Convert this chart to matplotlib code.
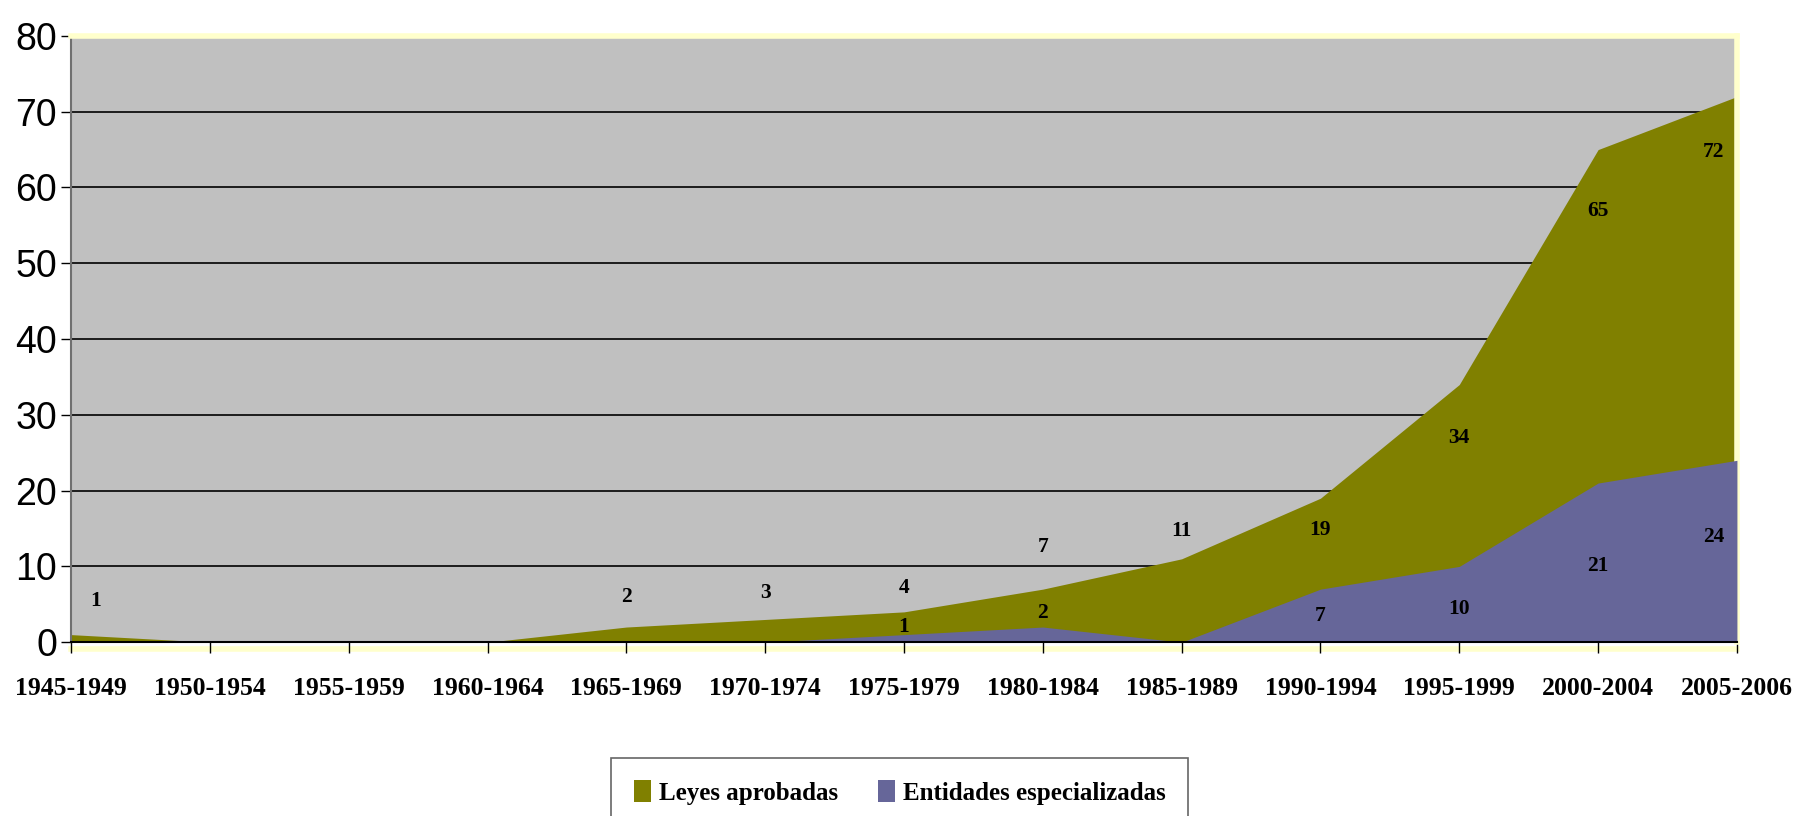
import matplotlib
matplotlib.use("Agg")
import matplotlib.pyplot as plt
from matplotlib.patches import Patch

periods = ["1945-1949", "1950-1954", "1955-1959", "1960-1964", "1965-1969",
           "1970-1974", "1975-1979", "1980-1984", "1985-1989", "1990-1994",
           "1995-1999", "2000-2004", "2005-2006"]
leyes = [1, 0, 0, 0, 2, 3, 4, 7, 11, 19, 34, 65, 72]
entidades = [0, 0, 0, 0, 0, 0, 1, 2, 0, 7, 10, 21, 24]

# data labels as Excel placed them (period index -> y position in data units)
leyes_labels = {0: 5.4, 4: 6.0, 5: 6.5, 6: 7.1, 7: 12.6, 8: 14.7,
                9: 14.8, 10: 26.9, 11: 56.9, 12: 64.7}
entidades_labels = {6: 2.0, 7: 3.9, 9: 3.5, 10: 4.4, 11: 10.1, 12: 13.9}

GREEN = "#808000"
PURPLE = "#666699"
GRAY = "#C0C0C0"
YELLOW = "#FFFFCC"

SERIF_B = dict(family=["Liberation Serif", "DejaVu Serif"], weight="bold")
SANS = ["Liberation Sans Narrow", "Liberation Sans", "DejaVu Sans"]

fig = plt.figure(figsize=(17.99, 8.16), dpi=100)
ax = fig.add_axes([0.0395, 0.213, 0.926, 0.743])
ax.set_facecolor(GRAY)

x = list(range(len(periods)))
ax.set_xlim(0, len(periods) - 1)
ax.set_ylim(0, 80)
ax.set_yticks(range(0, 81, 10))
ax.grid(axis="y", color="black", lw=1.2)
ax.set_axisbelow("line")

ax.fill_between(x, 0, leyes, color=GREEN, lw=0, zorder=2)
ax.fill_between(x, 0, entidades, color=PURPLE, lw=0, zorder=3)


def label_offset(i):
    if i == 0:
        return 18
    if i == len(periods) - 1:
        return -17
    return 0


for i, y in leyes_labels.items():
    ax.annotate(str(leyes[i]), (x[i], y), xytext=(label_offset(i), 0),
                textcoords="offset points", ha="center", va="center",
                fontsize=15.5, zorder=5, **SERIF_B)
for i, y in entidades_labels.items():
    ax.annotate(str(entidades[i]), (x[i], y), xytext=(label_offset(i), 0),
                textcoords="offset points", ha="center", va="center",
                fontsize=15.5, zorder=5, **SERIF_B)

ax.set_xticks(x)
ax.set_xticklabels(periods, fontsize=18.5, **SERIF_B)
ax.tick_params(axis="x", direction="out", length=8, width=1, pad=17)
ax.tick_params(axis="y", direction="out", length=7, width=1, pad=3)
for lab in ax.get_yticklabels():
    lab.set_family(SANS)
    lab.set_fontsize(27)

for side in ["top", "right"]:
    ax.spines[side].set_color(YELLOW)
    ax.spines[side].set_linewidth(4)
ax.spines["left"].set_color("#707070")
ax.spines["left"].set_linewidth(1.5)
ax.spines["bottom"].set_color("black")
ax.spines["bottom"].set_linewidth(1.5)
ax.spines["bottom"].set_zorder(4)
# light yellow band just under the x axis line
ax.axhline(-0.9, color=YELLOW, lw=4, clip_on=False, zorder=1)

handles = [Patch(facecolor=GREEN, edgecolor="none", label="Leyes aprobadas"),
           Patch(facecolor=PURPLE, edgecolor="none", label="Entidades especializadas")]
leg = fig.legend(handles=handles, loc="upper center", ncol=2,
                 bbox_to_anchor=(0.5, 0.087), frameon=True, fancybox=False,
                 prop=dict(family=["Liberation Serif"], weight="bold", size=18),
                 handlelength=0.7, handleheight=1.0, handletextpad=0.3,
                 columnspacing=1.6, borderpad=0.9)
leg.get_frame().set_edgecolor("#404040")
leg.get_frame().set_linewidth(1.2)

fig.savefig("out.png", dpi=100)
